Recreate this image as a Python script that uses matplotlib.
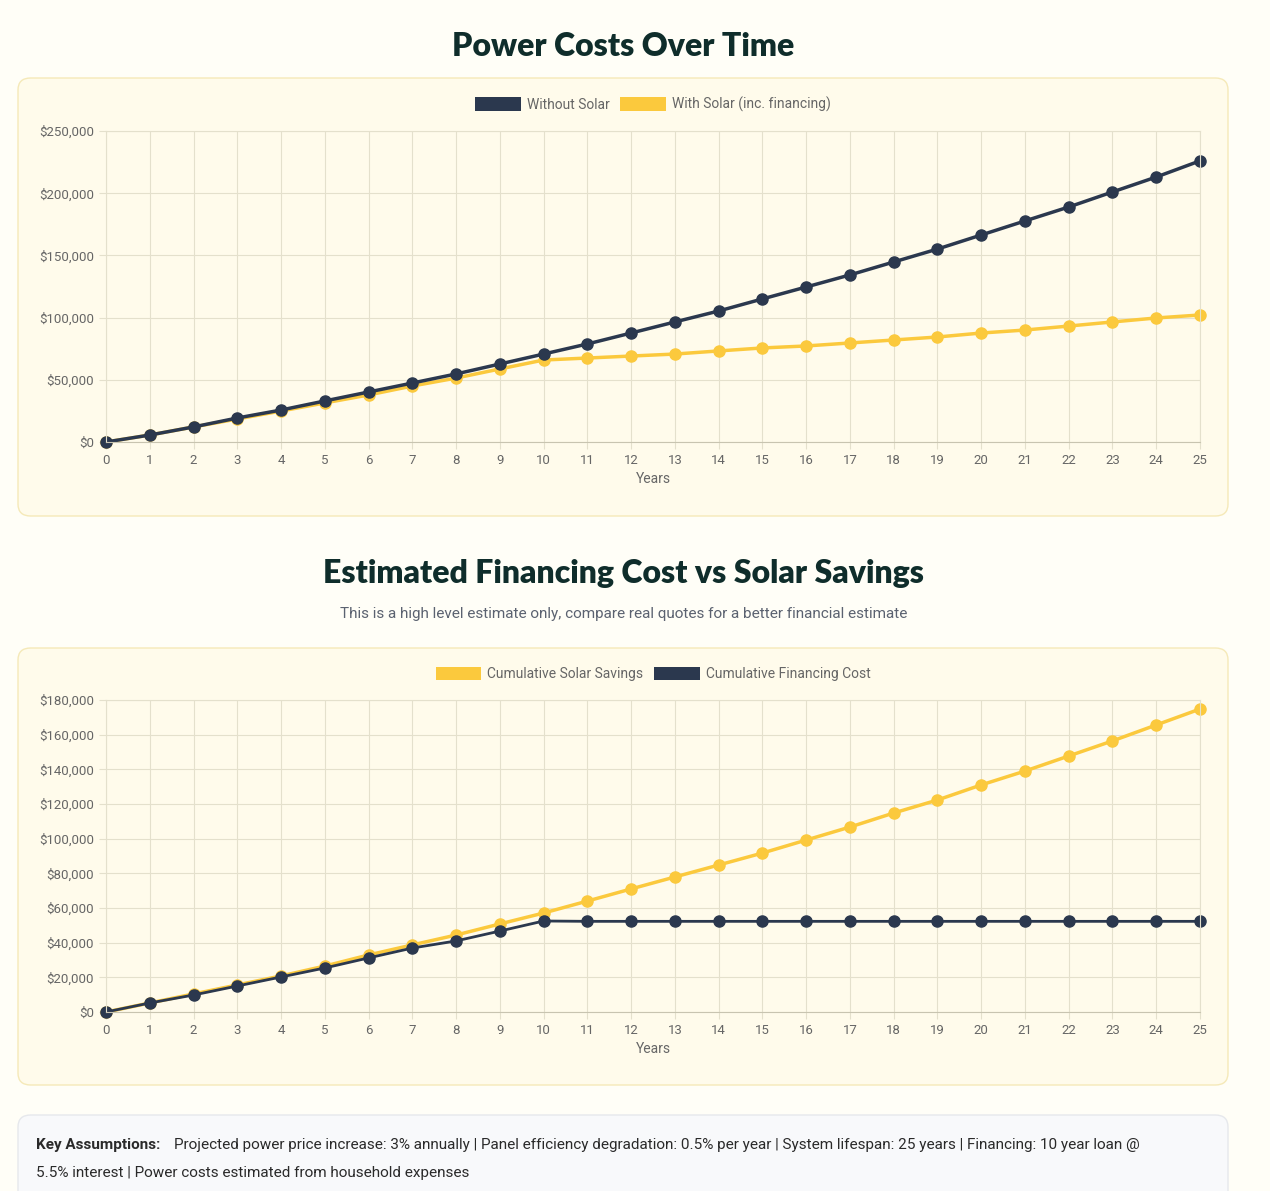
import matplotlib.pyplot as plt
from matplotlib.patches import FancyBboxPatch, Patch

years = list(range(26))
without_solar = [0, 5.6, 12.1, 19.3, 25.7, 33.0, 40.2, 47.4, 54.7, 62.7, 70.7, 78.8, 87.6, 96.5, 105.3,
                 115.0, 124.6, 134.3, 144.7, 155.1, 166.4, 177.7, 188.9, 201.0, 213.0, 226.0]
with_solar = [0, 5.6, 12.1, 18.5, 24.9, 31.4, 37.8, 45.0, 51.4, 58.7, 65.9, 67.5, 69.1, 70.7, 73.2,
              75.6, 77.2, 79.6, 82.0, 84.4, 87.6, 90.0, 93.2, 96.5, 99.7, 102.1]
solar_savings = [0, 5.2, 10.4, 15.6, 20.8, 26.5, 32.9, 38.7, 44.4, 50.8, 57.1, 64.0, 71.0, 77.9, 84.8,
                 91.7, 99.2, 106.7, 114.8, 122.3, 131.0, 139.0, 147.7, 156.4, 165.6, 174.8]
financing_cost = [0, 5.2, 9.8, 15.0, 20.2, 25.4, 31.2, 36.9, 41.0, 46.7, 52.5] + [52.3] * 15

DARK = '#2b384e'
YELLOW = '#fbc93d'
TITLE = '#0f2d2b'
BG = '#fffef7'
PANEL = '#fffbeb'

plt.rcParams['font.family'] = ['Roboto', 'DejaVu Sans']
fig = plt.figure(figsize=(12.7, 11.91), dpi=100)
fig.patch.set_facecolor(BG)

W, H = 1270, 1191
def fx(px): return px / W
def fy(py): return 1 - py / H

# panels
for top, bot, col, edge in [(78, 516, PANEL, '#f5e9b8'), (648, 1085, PANEL, '#f5e9b8'), (1115, 1205, '#f8f9fb', '#e6e8ec')]:
    fig.patches.append(FancyBboxPatch((fx(18), fy(bot)), fx(1210), (bot - top) / H,
                                      boxstyle='round,pad=0,rounding_size=0.01', transform=fig.transFigure,
                                      facecolor=col, edgecolor=edge, linewidth=1, zorder=-1))

fig.text(0.491, fy(47), 'Power Costs Over Time', ha='center', va='center', fontsize=23,
         fontweight='heavy', color=TITLE, family=['Lato', 'DejaVu Sans'])
fig.text(0.491, fy(573), 'Estimated Financing Cost vs Solar Savings', ha='center', va='center', fontsize=23,
         fontweight='heavy', color=TITLE, family=['Lato', 'DejaVu Sans'])
fig.text(0.491, fy(614), 'This is a high level estimate only, compare real quotes for a better financial estimate',
         ha='center', va='center', fontsize=11, color='#5b6270')


def draw(ax, series, ymax, step):
    ax.set_zorder(2)
    ax.set_facecolor(PANEL)
    for vals, col, lab in series:
        ax.plot(years, vals, color=col, linewidth=2.5, marker='o', markersize=8, label=lab, clip_on=False)
    ax.set_xlim(0, 25)
    ax.set_ylim(0, ymax)
    ax.set_xticks(years)
    ax.set_yticks(range(0, ymax + 1, step))
    ax.set_yticklabels([f'${v:,}' for v in range(0, ymax * 1000 + 1, step * 1000)])
    ax.grid(True, color='#e4e0cc', linewidth=0.8)
    ax.set_axisbelow(True)
    for s in ax.spines.values():
        s.set_color('#e4e0cc')
    ax.spines['bottom'].set_color('#c8c4b0')
    ax.tick_params(colors='#666666', labelsize=9.5, length=5)
    ax.tick_params(color='#e4e0cc')
    ax.set_xlabel('Years', color='#666666', fontsize=10)
    handles = [Patch(facecolor=c, label=l) for _, c, l in series]
    ax.legend(handles=handles, loc='lower center', bbox_to_anchor=(0.5, 1.02), ncol=2, frameon=False,
              fontsize=10, labelcolor='#666666', handlelength=3.3, handleheight=1.1, columnspacing=0.8,
              handletextpad=0.4)


ax1 = fig.add_axes([fx(106), fy(442), fx(1094), 311 / H])
draw(ax1, [(without_solar, DARK, 'Without Solar'), (with_solar, YELLOW, 'With Solar (inc. financing)')], 250, 50)
ax1.lines[1].set_zorder(1)

ax2 = fig.add_axes([fx(106), fy(1012), fx(1094), 312 / H])
draw(ax2, [(solar_savings, YELLOW, 'Cumulative Solar Savings'), (financing_cost, DARK, 'Cumulative Financing Cost')], 180, 20)
ax2.lines[1].set_linewidth(2)

fig.text(fx(36), fy(1145), 'Key Assumptions:', va='center', fontsize=11, color='#2a2a2a', fontweight='bold')
fig.text(fx(174), fy(1145), 'Projected power price increase: 3% annually | Panel efficiency degradation: 0.5% per year | System lifespan: 25 years | Financing: 10 year loan @',
         va='center', fontsize=11, color='#2a2a2a')
fig.text(fx(36), fy(1173), '5.5% interest | Power costs estimated from household expenses',
         va='center', fontsize=11, color='#2a2a2a')

fig.savefig('out.png', dpi=100, facecolor=BG)
